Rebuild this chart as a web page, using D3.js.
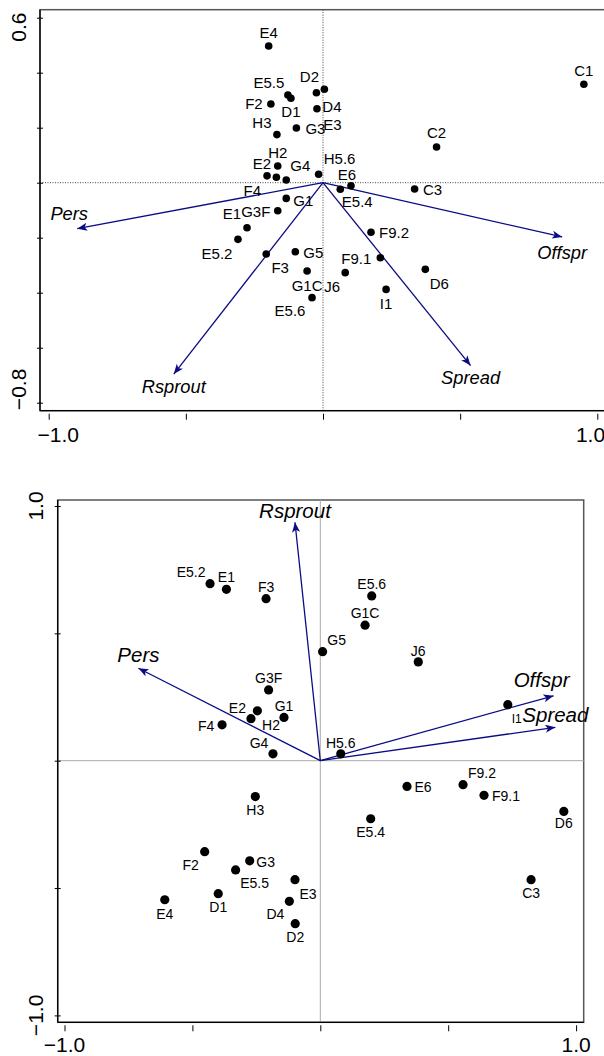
<!DOCTYPE html>
<html>
<head>
<meta charset="utf-8">
<script src="https://cdn.jsdelivr.net/npm/d3@7"></script>
<style>
  body { margin: 0; background: #fff; }
  svg { display: block; font-family: "Liberation Sans", Arial, sans-serif; }
</style>
</head>
<body>
<div id="chart"></div>
<script>
// sites, scores on the two axes for each panel
const topSites = ["E4","E5.5","D1","F2","D2","E3","D4","G3","H3","H2","E2","F4","G4","H5.6","E5.4","E6",
  "G1","G3F","E1","E5.2","F3","G5","G1C","J6","E5.6","F9.2","F9.1","I1","D6","C3","C1","C2"];
const topAx1 = [-0.198,-0.128,-0.117,-0.190,-0.024,0.005,-0.022,-0.097,-0.168,-0.165,-0.204,-0.170,-0.134,-0.016,0.063,0.102,
  -0.134,-0.165,-0.277,-0.310,-0.207,-0.101,-0.058,0.081,-0.040,0.175,0.209,0.230,0.373,0.334,0.951,0.414];
const topAx2 = [0.497,0.319,0.307,0.286,0.327,0.340,0.269,0.199,0.175,0.061,0.025,0.020,0.010,0.031,-0.024,-0.011,
  -0.057,-0.102,-0.164,-0.206,-0.259,-0.251,-0.321,-0.327,-0.418,-0.180,-0.273,-0.388,-0.315,-0.023,0.358,0.130];

const bottomSites = ["E5.2","E1","F3","G3F","E2","H2","G1","F4","G4","E5.6","G1C","G5","J6","I1","H5.6",
  "E6","F9.2","F9.1","D6","E5.4","C3","H3","F2","G3","E5.5","D1","E4","E3","D4","D2"];
const bottomAx1 = [-0.431,-0.367,-0.212,-0.202,-0.246,-0.271,-0.142,-0.384,-0.185,0.201,0.175,0.009,0.383,0.733,0.080,
  0.339,0.558,0.640,0.952,0.197,0.824,-0.254,-0.452,-0.276,-0.331,-0.399,-0.608,-0.099,-0.121,-0.098];
const bottomAx2 = [0.695,0.673,0.636,0.278,0.196,0.165,0.170,0.141,0.027,0.647,0.532,0.428,0.388,0.220,0.027,
  -0.101,-0.094,-0.136,-0.199,-0.228,-0.467,-0.141,-0.357,-0.393,-0.429,-0.522,-0.546,-0.467,-0.552,-0.640];

// trait vectors
const traits = ["Pers","Rsprout","Offspr","Spread"];
const topVecX = [-0.896,-0.544,0.872,0.538];
const topVecY = [-0.167,-0.696,-0.197,-0.665];
const bottomVecX = [-0.711,-0.099,0.912,0.919];
const bottomVecY = [0.363,0.936,0.255,0.131];

// axis ticks
const topXTicks = [-1,-0.5,0,0.5,1];
const topYTicks = [-0.8,-0.6,-0.4,-0.2,0,0.2,0.4,0.6];
const bottomXTicks = [-1,-0.5,0,0.5,1];
const bottomYTicks = [-1,-0.5,0,0.5,1];
const topXLabels = [[-1,"\u22121.0"],[1,"1.0"]];
const topYLabels = [[0.6,"0.6"],[-0.8,"\u22120.8"]];
const bottomXLabels = [[-1,"\u22121.0"],[1,"1.0"]];
const bottomYLabels = [[1,"1.0"],[-1,"\u22121.0"]];

// label placement (pixel nudges from the point)
const topNudge = {
  "E4":[0,-13],"E5.5":[-19,-12],"D1":[0,13],"F2":[-17,0],"D2":[-7,-16],"E3":[8,35],"D4":[15,-2],"G3":[19,1],
  "H3":[-15,-12],"H2":[0,-13],"E2":[-5,-12],"F4":[-24,13],"G4":[14,-14],"H5.6":[21,-16],"E5.4":[17,12],"E6":[-4,-11],
  "G1":[17,2],"G3F":[-22,1],"E1":[-15,-14],"E5.2":[-21,14],"F3":[14,14],"G5":[18,1],"G1C":[0,15],"J6":[-13,14],
  "E5.6":[-22,13],"F9.2":[23,0],"F9.1":[-24,1],"I1":[0,14],"D6":[14,14],"C3":[18,1],"C1":[0,-14],"C2":[0,-14]
};
const bottomNudge = {
  "E5.2":[-19,-12],"E1":[0,-12],"F3":[0,-12],"G3F":[0,-12],"E2":[-20,-3],"H2":[20,6],"G1":[0,-11],"F4":[-16,1],
  "G4":[-14,-11],"E5.6":[0,-12],"G1C":[0,-12],"G5":[14,-12],"J6":[0,-11],"I1":[9,14],"H5.6":[0,-11],
  "E6":[16,1],"F9.2":[19,-12],"F9.1":[22,1],"D6":[0,12],"E5.4":[0,13],"C3":[0,13],"H3":[0,13],"F2":[-14,13],
  "G3":[16,1],"E5.5":[19,13],"D1":[0,13],"E4":[0,14],"E3":[13,14],"D4":[-14,13],"D2":[0,13]
};
const topVecNudge = [[-8,-15],[0,12],[0,16],[0,12]];
const bottomVecNudge = [[0,-14],[0,-12],[-12,-16],[0,-13]];

const svg = d3.select("#chart").append("svg")
  .attr("width", 604).attr("height", 1056);

const navy = "#0b0b85";
svg.append("defs").append("marker")
  .attr("id", "head")
  .attr("markerUnits", "userSpaceOnUse")
  .attr("markerWidth", 12).attr("markerHeight", 10)
  .attr("refX", 10).attr("refY", 4)
  .attr("orient", "auto")
  .append("path")
  .attr("d", "M0,0L10,4L0,8L2.5,4Z")
  .attr("fill", navy);

function drawPanel(p) {
  const g = svg.append("g");
  const x = d3.scaleLinear().domain([-1, 1]).range(p.xRange);
  const y = d3.scaleLinear().domain(p.yDomain).range(p.yRange);

  // frame
  g.append("rect")
    .attr("x", p.box[0]).attr("y", p.box[1])
    .attr("width", p.box[2] - p.box[0]).attr("height", p.box[3] - p.box[1])
    .attr("fill", "none").attr("stroke", "#555").attr("stroke-width", 1.5);

  // zero lines
  g.append("line")
    .attr("x1", p.box[0]).attr("x2", p.box[2]).attr("y1", y(0)).attr("y2", y(0))
    .attr("stroke", p.zeroColor).attr("stroke-width", 1).attr("stroke-dasharray", p.zeroDash);
  g.append("line")
    .attr("x1", x(0)).attr("x2", x(0)).attr("y1", p.box[1]).attr("y2", p.box[3])
    .attr("stroke", p.zeroColor).attr("stroke-width", 1).attr("stroke-dasharray", p.zeroDash);

  // axes
  const ax = g.append("g")
    .attr("transform", `translate(0,${p.box[3] + 3})`)
    .call(d3.axisBottom(x).tickValues(p.xTicks).tickSize(6).tickFormat(""));
  ax.select(".domain").remove();
  const ay = g.append("g")
    .attr("transform", `translate(${p.box[0] + 3},0)`)
    .call(d3.axisLeft(y).tickValues(p.yTicks).tickSize(6).tickFormat(""));
  ay.select(".domain").remove();
  g.append("line").attr("x1", p.box[0]).attr("x2", p.box[0]).attr("y1", p.box[1]).attr("y2", p.box[3])
    .attr("stroke", "#000").attr("stroke-width", 1.3);
  g.append("line").attr("x1", p.box[0]).attr("x2", p.box[2]).attr("y1", p.box[3]).attr("y2", p.box[3])
    .attr("stroke", "#000").attr("stroke-width", 1.3);

  p.xLabels.forEach(([v, t], i) => {
    g.append("text")
      .attr("x", x(v) + p.xLabelShift[i]).attr("y", p.xLabelBase)
      .attr("text-anchor", "middle").attr("font-size", 21).text(t);
  });
  p.yLabels.forEach(([v, t], i) => {
    const yy = y(v) + p.yLabelShift[i];
    g.append("text")
      .attr("x", p.yLabelBase).attr("y", yy)
      .attr("transform", `rotate(-90,${p.yLabelBase},${yy})`)
      .attr("text-anchor", "middle").attr("font-size", 21).text(t);
  });

  // trait arrows
  traits.forEach((t, i) => {
    g.append("line")
      .attr("x1", x(0)).attr("y1", y(0))
      .attr("x2", x(p.vecX[i])).attr("y2", y(p.vecY[i]))
      .attr("stroke", navy).attr("stroke-width", 1.3)
      .attr("marker-end", "url(#head)");
    g.append("text")
      .attr("x", x(p.vecX[i]) + p.vecNudge[i][0])
      .attr("y", y(p.vecY[i]) + p.vecNudge[i][1])
      .attr("dy", "0.36em")
      .attr("text-anchor", "middle")
      .attr("font-style", "italic")
      .attr("font-size", p.vecFont)
      .text(t);
  });

  // sites
  p.sites.forEach((s, i) => {
    const cx = x(p.ax1[i]), cy = y(p.ax2[i]);
    g.append("circle").attr("cx", cx).attr("cy", cy).attr("r", p.r).attr("fill", "#000");
    const n = p.nudge[s];
    g.append("text")
      .attr("x", cx + n[0]).attr("y", cy + n[1])
      .attr("dy", "0.36em")
      .attr("text-anchor", "middle")
      .attr("font-size", s === "I1" && p.small ? 12 : p.labelFont)
      .text(s);
  });
}

drawPanel({
  box: [40, 9.7, 606, 410.7],
  xRange: [48.7, 597.3], yDomain: [-0.8, 0.6], yRange: [402.7, 17.7],
  xTicks: topXTicks, yTicks: topYTicks,
  xLabels: topXLabels, yLabels: topYLabels,
  xLabelShift: [9.6, -6.8], yLabelShift: [9.4, -13.3],
  xLabelBase: 441.5, yLabelBase: 26,
  zeroColor: "#444", zeroDash: "1,1.5",
  vecX: topVecX, vecY: topVecY, vecNudge: topVecNudge, vecFont: 18.3,
  sites: topSites, ax1: topAx1, ax2: topAx2, nudge: topNudge,
  r: 3.8, labelFont: 15, small: false
});

drawPanel({
  box: [57.7, 500, 583.7, 1022.3],
  xRange: [64.5, 576.1], yDomain: [-1, 1], yRange: [1015.4, 506],
  xTicks: bottomXTicks, yTicks: bottomYTicks,
  xLabels: bottomXLabels, yLabels: bottomYLabels,
  xLabelShift: [0, 0], yLabelShift: [0, 0],
  xLabelBase: 1051.5, yLabelBase: 43,
  zeroColor: "#aaa", zeroDash: null,
  vecX: bottomVecX, vecY: bottomVecY, vecNudge: bottomVecNudge, vecFont: 20.5,
  sites: bottomSites, ax1: bottomAx1, ax2: bottomAx2, nudge: bottomNudge,
  r: 4.6, labelFont: 14, small: true
});
</script>
</body>
</html>
